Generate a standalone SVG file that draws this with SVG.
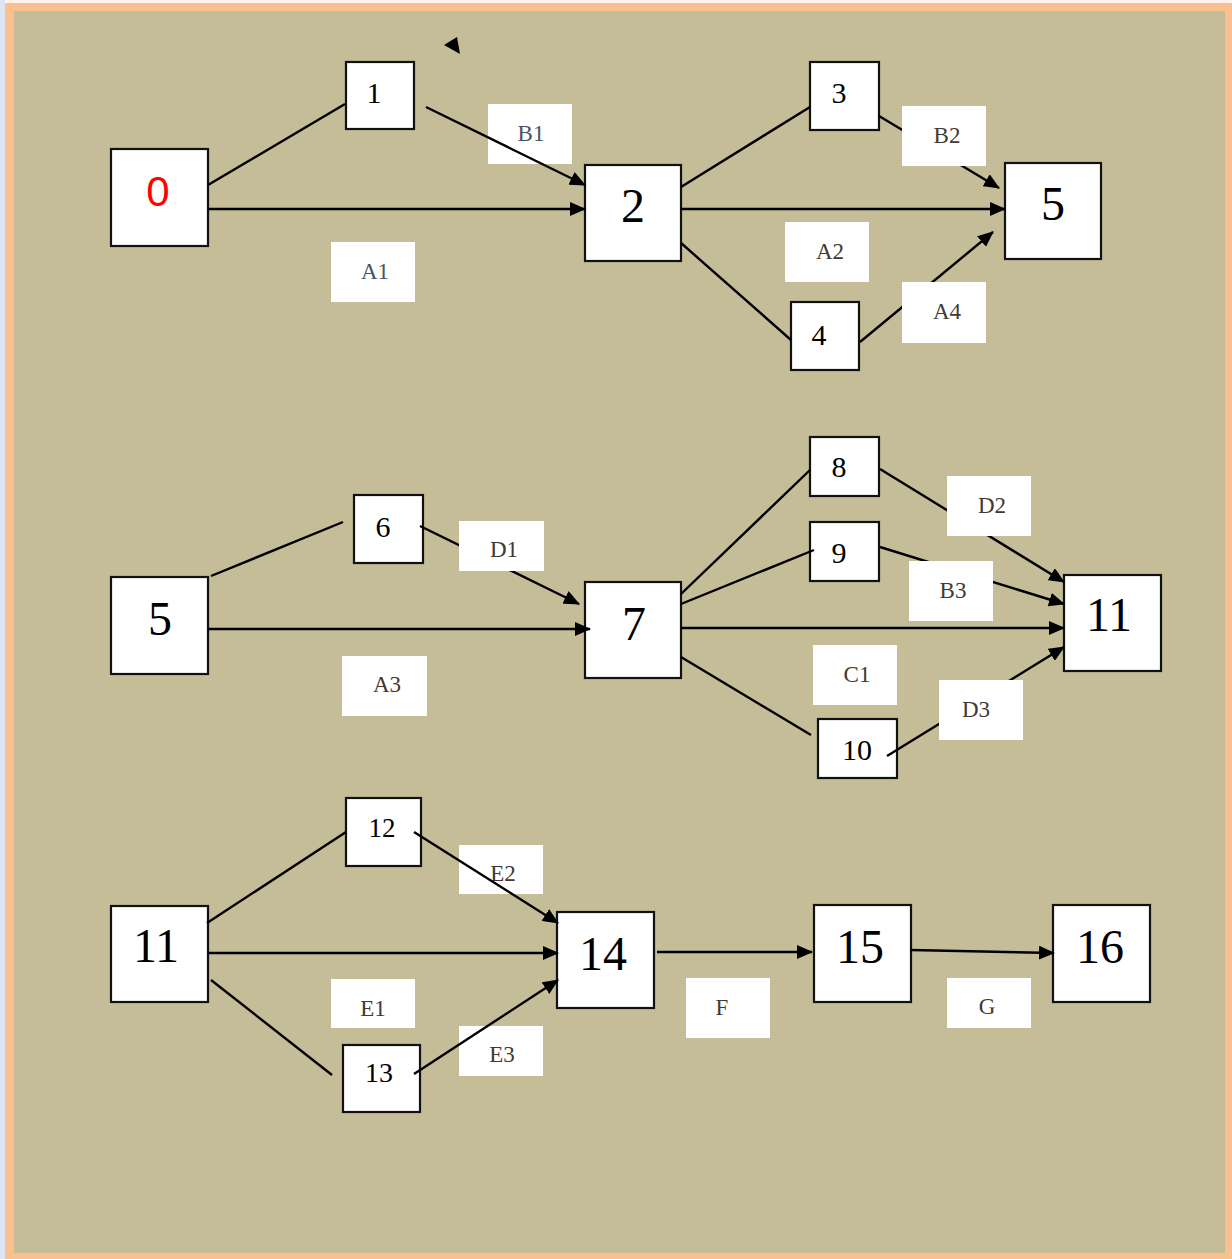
<svg xmlns="http://www.w3.org/2000/svg" width="1232" height="1259" viewBox="0 0 1232 1259">
<style>
.nb{fill:#fff;stroke:#111;stroke-width:2.2}
.nt{font-family:"Liberation Serif","Times New Roman",serif;fill:#000;text-anchor:middle}
.big{font-size:48px}
.sm{font-size:30px}
.lb{fill:#fff}
.lt{font-family:"Liberation Serif","Times New Roman",serif;font-size:23px;fill:#403a32;text-anchor:middle}
.blue{fill:#44546a}
.c{stroke:#000;stroke-width:2.4;fill:none}
.a{marker-end:url(#ah)}
</style>
<defs>
<marker id="ah" markerUnits="userSpaceOnUse" markerWidth="16" markerHeight="14" refX="15" refY="7" orient="auto">
<path d="M0,0 L16,7 L0,14 z" fill="#000"/>
</marker>
</defs>
<rect x="0" y="0" width="1232" height="1259" fill="#fac090"/>
<rect x="0" y="0" width="1232" height="3" fill="#fdf3ea"/>
<rect x="0" y="0" width="5" height="1259" fill="#dce6f2"/>
<rect x="14" y="11" width="1211" height="1242" fill="#c4bd97"/>

<!-- labels behind connectors -->
<g id="label-B1"><rect class="lb" x="488" y="104" width="84" height="60"/><text class="lt blue" x="531" y="141">B1</text></g>
<g id="label-E2"><rect class="lb" x="459" y="845" width="84" height="49"/><text class="lt" x="503" y="881">E2</text></g>
<g id="label-E3"><rect class="lb" x="459" y="1026" width="84" height="50"/><text class="lt" x="502" y="1062">E3</text></g>

<!-- nodes -->
<g id="node-0"><rect class="nb" x="111" y="149" width="97" height="97"/><text x="158" y="206" font-family="'Liberation Sans',Arial,sans-serif" font-size="42" fill="#ff0000" text-anchor="middle">0</text></g>
<g id="node-1"><rect class="nb" x="346" y="62" width="68" height="67"/><text class="nt sm" x="374" y="103">1</text></g>
<g id="node-2"><rect class="nb" x="585" y="165" width="96" height="96"/><text class="nt big" x="633" y="222">2</text></g>
<g id="node-3"><rect class="nb" x="810" y="62" width="69" height="68"/><text class="nt sm" x="839" y="103">3</text></g>
<g id="node-4"><rect class="nb" x="791" y="302" width="68" height="68"/><text class="nt sm" x="819" y="345">4</text></g>
<g id="node-5a"><rect class="nb" x="1005" y="163" width="96" height="96"/><text class="nt big" x="1053" y="220">5</text></g>

<g id="node-5b"><rect class="nb" x="111" y="577" width="97" height="97"/><text class="nt big" x="160" y="635">5</text></g>
<g id="node-6"><rect class="nb" x="354" y="495" width="69" height="68"/><text class="nt sm" x="383" y="537">6</text></g>
<g id="node-7"><rect class="nb" x="585" y="582" width="96" height="96"/><text class="nt big" x="634" y="640">7</text></g>
<g id="node-8"><rect class="nb" x="810" y="437" width="69" height="59"/><text class="nt sm" x="839" y="477">8</text></g>
<g id="node-9"><rect class="nb" x="810" y="522" width="69" height="59"/><text class="nt sm" x="839" y="563">9</text></g>
<g id="node-10"><rect class="nb" x="818" y="719" width="79" height="59"/><text class="nt sm" x="857" y="760">10</text></g>
<g id="node-11a"><rect class="nb" x="1064" y="575" width="97" height="96"/><text class="nt big" x="1109" y="631">11</text></g>

<g id="node-11b"><rect class="nb" x="111" y="906" width="97" height="96"/><text class="nt big" x="156" y="962">11</text></g>
<g id="node-12"><rect class="nb" x="346" y="798" width="75" height="68"/><text class="nt" font-size="27" x="382" y="837">12</text></g>
<g id="node-13"><rect class="nb" x="343" y="1045" width="77" height="67"/><text class="nt" font-size="28" x="379" y="1082">13</text></g>
<g id="node-14"><rect class="nb" x="557" y="912" width="97" height="96"/><text class="nt big" x="603" y="970">14</text></g>
<g id="node-15"><rect class="nb" x="814" y="905" width="97" height="97"/><text class="nt big" x="860" y="963">15</text></g>
<g id="node-16"><rect class="nb" x="1053" y="905" width="97" height="97"/><text class="nt big" x="1100" y="963">16</text></g>

<g id="connectors">
<line class="c" x1="208" y1="185" x2="345" y2="104"/>
<line class="c a" x1="208" y1="209" x2="585" y2="209"/>
<line class="c a" x1="426" y1="107" x2="585" y2="185"/>
<line class="c" x1="681" y1="187" x2="810" y2="107"/>
<line class="c a" x1="681" y1="209" x2="1005" y2="209"/>
<line class="c" x1="681" y1="243" x2="791" y2="340"/>
<line class="c a" x1="879" y1="116" x2="999" y2="188"/>
<line class="c a" x1="860" y1="342" x2="993" y2="232"/>
<polygon points="444,45 457,37 460,54" fill="#000"/>

<line class="c" x1="211" y1="576" x2="343" y2="522"/>
<line class="c a" x1="208" y1="629" x2="590" y2="629"/>
<line class="c a" x1="420" y1="526" x2="579" y2="604"/>
<line class="c" x1="681" y1="594" x2="810" y2="470"/>
<line class="c" x1="681" y1="604" x2="814" y2="550"/>
<line class="c a" x1="681" y1="628" x2="1064" y2="628"/>
<line class="c" x1="681" y1="657" x2="811" y2="735"/>
<line class="c a" x1="880" y1="469" x2="1064" y2="582"/>
<line class="c a" x1="880" y1="547" x2="1064" y2="604"/>
<line class="c a" x1="887" y1="756" x2="1064" y2="647"/>

<line class="c" x1="207" y1="923" x2="346" y2="832"/>
<line class="c a" x1="208" y1="953" x2="558" y2="953"/>
<line class="c" x1="211" y1="980" x2="332" y2="1075"/>
<line class="c a" x1="414" y1="832" x2="558" y2="923"/>
<line class="c a" x1="414" y1="1074" x2="558" y2="980"/>
<line class="c a" x1="657" y1="952" x2="812" y2="952"/>
<line class="c a" x1="911" y1="950" x2="1054" y2="953"/>
</g>

<!-- labels above connectors -->
<g id="label-A1"><rect class="lb" x="331" y="242" width="84" height="60"/><text class="lt blue" x="375" y="279">A1</text></g>
<g id="label-B2"><rect class="lb" x="902" y="106" width="84" height="60"/><text class="lt" x="947" y="143">B2</text></g>
<g id="label-A2"><rect class="lb" x="785" y="222" width="84" height="60"/><text class="lt" x="830" y="259">A2</text></g>
<g id="label-A4"><rect class="lb" x="902" y="282" width="84" height="61"/><text class="lt" x="947" y="319">A4</text></g>
<g id="label-D1"><rect class="lb" x="459" y="521" width="85" height="50"/><text class="lt" x="504" y="557">D1</text></g>
<g id="label-A3"><rect class="lb" x="342" y="656" width="85" height="60"/><text class="lt" x="387" y="692">A3</text></g>
<g id="label-D2"><rect class="lb" x="947" y="476" width="84" height="60"/><text class="lt" x="992" y="513">D2</text></g>
<g id="label-B3"><rect class="lb" x="909" y="561" width="84" height="60"/><text class="lt" x="953" y="598">B3</text></g>
<g id="label-C1"><rect class="lb" x="813" y="645" width="84" height="60"/><text class="lt" x="857" y="682">C1</text></g>
<g id="label-D3"><rect class="lb" x="939" y="680" width="84" height="60"/><text class="lt" x="976" y="717">D3</text></g>
<g id="label-E1"><rect class="lb" x="331" y="979" width="84" height="49"/><text class="lt" x="373" y="1016">E1</text></g>
<g id="label-F"><rect class="lb" x="686" y="978" width="84" height="60"/><text class="lt" x="722" y="1015">F</text></g>
<g id="label-G"><rect class="lb" x="947" y="978" width="84" height="50"/><text class="lt" x="987" y="1014">G</text></g>
</svg>
